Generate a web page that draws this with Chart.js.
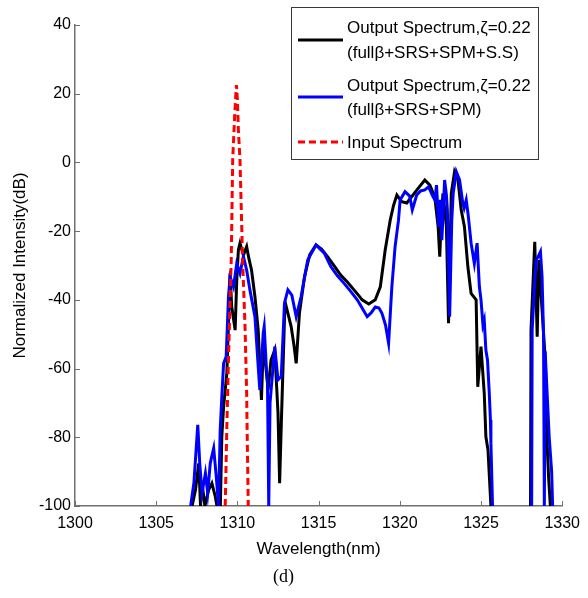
<!DOCTYPE html>
<html>
<head>
<meta charset="utf-8">
<script src="https://cdn.jsdelivr.net/npm/chart.js@4"></script>
<style>
  html, body { margin: 0; padding: 0; background: #fff; }
  #wrap { width: 588px; height: 598px; position: relative; }
</style>
</head>
<body>
<div id="wrap"><canvas id="c" width="588" height="598"></canvas></div>
<script>
// ---- data ----
const xTicks = [1300, 1305, 1310, 1315, 1320, 1325, 1330];
const yTicks = [-100, -80, -60, -40, -20, 0, 20, 40];

const blackWl = [
  1307.21,1307.42,1307.62,1307.73,1307.82,1308.0,1308.23,1308.43,1308.64,1308.74,
  1308.95,1309.04,1309.15,1309.35,1309.55,1309.65,1309.86,1309.96,1310.06,1310.16,
  1310.37,1310.57,1310.7,1310.87,1311.08,1311.18,1311.28,1311.48,1311.59,1311.69,
  1311.89,1312.07,1312.3,1312.5,1312.6,1312.71,1312.91,1313.01,1313.31,1313.48,
  1313.62,1313.82,1314.13,1314.45,1314.84,1315.18,1315.55,1315.96,1316.36,1316.77,
  1317.18,1317.5,1317.68,1318.09,1318.49,1318.8,1319.1,1319.41,1319.62,1319.82,
  1320.12,1320.43,1320.73,1321.14,1321.54,1321.85,1322.15,1322.36,1322.46,1322.56,
  1322.66,1322.87,1323.0,1323.17,1323.37,1323.58,1323.78,1323.98,1324.19,1324.39,
  1324.7,1324.8,1325.0,1325.2,1325.3,1325.43,1325.61,1327.0,1328.05,1328.08,
  1328.31,1328.46,1328.56,1328.72,1328.96,1329.07,1329.16,1329.27
];
const blackDb = [
  -100,-95.3,-87.6,-100,-93.3,-100,-95.3,-93.4,-97.3,-100,
  -100,-79.8,-71.1,-61.3,-32.3,-42,-48.8,-34.2,-25.5,-23.5,
  -27,-24.5,-27.8,-31.3,-39.1,-43.9,-48.8,-69.1,-53.6,-56.5,
  -66.2,-57.5,-54.6,-72.9,-93.4,-75,-43.9,-42,-47.8,-53.1,
  -58.5,-43.9,-33.3,-26.9,-24,-25.2,-27.4,-30.1,-32.8,-34.8,
  -37.1,-38.9,-40,-41.2,-40,-36.2,-25.5,-16.8,-12.4,-9.5,
  -11.4,-11.8,-10,-7.5,-5.1,-6.6,-10,-18.7,-27.4,-15.3,
  -9,-18.7,-46.8,-9,-2.7,-5.1,-13.8,-18.7,-30.3,-38.1,
  -40,-65.3,-53.6,-67.2,-79.8,-83.7,-100,null,-100,-48.8,
  -23.1,-50.7,-28.4,-40,-57.5,-81.7,-91.5,-100
];

const blueWl = [
  1307.12,1307.32,1307.56,1307.68,1307.82,1308.03,1308.17,1308.33,1308.54,1308.7,
  1308.84,1308.94,1309.04,1309.15,1309.31,1309.45,1309.55,1309.76,1309.96,1310.16,
  1310.37,1310.57,1310.77,1311.08,1311.28,1311.38,1311.59,1311.65,1311.79,1311.85,
  1311.93,1312.01,1312.3,1312.5,1312.7,1312.9,1313.11,1313.35,1313.62,1313.92,
  1314.33,1314.84,1315.35,1315.75,1316.16,1316.57,1316.95,1317.38,1317.68,1317.99,
  1318.23,1318.49,1318.72,1318.9,1319.12,1319.31,1319.51,1319.71,1319.92,1320.02,
  1320.32,1320.61,1320.77,1321.04,1321.28,1321.54,1321.77,1322.05,1322.16,1322.26,
  1322.4,1322.5,1322.59,1322.76,1322.87,1322.93,1323.07,1323.2,1323.29,1323.48,
  1323.68,1323.88,1323.96,1324.09,1324.21,1324.39,1324.59,1324.76,1324.9,1325.0,
  1325.12,1325.2,1325.3,1325.4,1325.51,1325.58,1325.61,1325.71,1327.0,1328.12,
  1328.15,1328.25,1328.31,1328.4,1328.52,1328.66,1328.76,1328.85,1328.9,1328.95,
  1329.05,1329.2,1329.35,1329.41
];
const blueDb = [
  -100,-93.4,-76.4,-87.5,-96.3,-90.5,-96.2,-87.5,-83.2,-91.5,
  -100,-77.9,-68.2,-58.5,-56.5,-39.1,-33.3,-36.2,-29.4,-32.3,
  -27.4,-31.3,-37.1,-44.9,-59.4,-66.2,-49.7,-47.8,-60.4,-63.3,
  -100,-70,-53.6,-63.3,-62.3,-40.9,-37.1,-38.6,-44.9,-39.1,
  -28.4,-24,-26.4,-30.3,-33,-35.2,-37.4,-40,-42.4,-44.9,
  -43.8,-42.1,-42.4,-43.9,-47.3,-52.6,-36.2,-24.5,-16.8,-10.9,
  -8.5,-9.8,-13.8,-9.5,-8.3,-8,-7.1,-10,-10.9,-6.6,
  -18.7,-10.9,-22.6,-5.1,-9.5,-13.8,-44.9,-16.8,-8.9,-2.7,
  -5.1,-11.9,-13.3,-10.9,-15.3,-23.5,-29.4,-23.5,-36.2,-40,
  -47.3,-45.9,-54.6,-57.5,-67.2,-75,-81.7,-100,null,-100,
  -48.8,-40,-34.2,-28.4,-27.4,-26,-33.3,-50,-100,-55,
  -65,-80,-90,-100
];

const redWl = [1309.25,1309.35,1309.45,1309.62,1309.71,1309.82,1309.9,1309.94,1310.0,1310.06,1310.16,1310.32,1310.47,1310.57,1310.61,1310.67];
const redDb = [-100,-77,-57.5,-28.4,0.7,12.4,19.6,22.5,18.2,9.4,0.7,-28.4,-47.9,-67.1,-81.7,-100];

const legendLines = [
  ['Output Spectrum,\u03B6=0.22', '(full\u03B2+SRS+SPM+S.S)'],
  ['Output Spectrum,\u03B6=0.22', '(full\u03B2+SRS+SPM)'],
  ['Input Spectrum']
];
const xTitle = 'Wavelength(nm)';
const yTitle = 'Normalized Intensity(dB)';
const caption = '(d)';

// ---- helpers ----
const toPts = (xs, ys) => xs.map((v, i) => ({x: v, y: ys[i]}));
const FONT = "'Liberation Sans', Arial, sans-serif";
const AXIS_COLOR = '#707070';

const inwardTicks = {
  id: 'inwardTicks',
  afterDatasetsDraw(chart) {
    const {ctx, chartArea: a, scales: {x, y}} = chart;
    ctx.save();
    ctx.strokeStyle = AXIS_COLOR;
    ctx.lineWidth = 1;
    x.ticks.forEach(t => {
      const px = Math.round(x.getPixelForValue(t.value)) + 0.5;
      ctx.beginPath(); ctx.moveTo(px, a.bottom); ctx.lineTo(px, a.bottom - 5); ctx.stroke();
    });
    y.ticks.forEach(t => {
      const py = Math.round(y.getPixelForValue(t.value)) + 0.5;
      ctx.beginPath(); ctx.moveTo(a.left, py); ctx.lineTo(a.left + 5, py); ctx.stroke();
    });
    ctx.restore();
  }
};

const boxLegend = {
  id: 'boxLegend',
  afterDraw(chart) {
    const ctx = chart.ctx;
    const bx = 291, by = 7, bw = 247, bh = 152;
    ctx.save();
    ctx.fillStyle = '#fff';
    ctx.fillRect(bx, by, bw, bh);
    ctx.strokeStyle = '#3a3a3a';
    ctx.lineWidth = 1;
    ctx.strokeRect(bx + 0.5, by + 0.5, bw, bh);
    const ds = chart.data.datasets;
    const lineY = [40, 97, 142];
    const textY = [[28, 53], [86, 110], [143]];
    for (let i = 0; i < 3; i++) {
      ctx.beginPath();
      ctx.strokeStyle = ds[i].borderColor;
      ctx.lineWidth = ds[i].borderWidth;
      ctx.setLineDash(ds[i].borderDash || []);
      ctx.moveTo(298, lineY[i]);
      ctx.lineTo(343, lineY[i]);
      ctx.stroke();
      ctx.setLineDash([]);
      ctx.fillStyle = '#000';
      ctx.font = '17px ' + FONT;
      ctx.textBaseline = 'middle';
      ctx.textAlign = 'left';
      legendLines[i].forEach((s, j) => ctx.fillText(s, 347, textY[i][j]));
    }
    ctx.restore();
  }
};

new Chart(document.getElementById('c'), {
  type: 'line',
  data: {
    datasets: [
      { label: legendLines[0].join(' '), data: toPts(blackWl, blackDb), borderColor: '#000000',
        borderWidth: 3, pointRadius: 0, tension: 0, spanGaps: false, order: 3 },
      { label: legendLines[1].join(' '), data: toPts(blueWl, blueDb), borderColor: '#0000ff',
        borderWidth: 3, pointRadius: 0, tension: 0, spanGaps: false, order: 2 },
      { label: legendLines[2][0], data: toPts(redWl, redDb), borderColor: '#ff0000',
        borderWidth: 3, borderDash: [7, 4], pointRadius: 0, tension: 0, order: 1 }
    ]
  },
  options: {
    responsive: false,
    animation: false,
    events: [],
    layout: { padding: { top: 25, right: 21, left: 0, bottom: 0 } },
    plugins: {
      legend: { display: false },
      tooltip: { enabled: false },
      title: { display: false },
      subtitle: {
        display: true, position: 'bottom', text: caption, color: '#000',
        font: { family: "'Liberation Serif', 'Times New Roman', serif", size: 18, weight: 'normal' },
        padding: { top: 0, bottom: 10 }
      }
    },
    scales: {
      x: {
        type: 'linear', min: 1300, max: 1330,
        afterBuildTicks: s => { s.ticks = xTicks.map(v => ({value: v})); },
        afterFit: s => { s.height = 60.4; },
        grid: { display: false, drawTicks: false },
        border: { display: true, color: AXIS_COLOR, width: 1.5 },
        ticks: { color: '#000', font: { family: FONT, size: 16 }, padding: 8, maxRotation: 0, autoSkip: false,
                 callback: v => String(v) },
        title: { display: true, text: xTitle, color: '#000', font: { family: FONT, size: 17 }, padding: { top: 0, bottom: 7 } }
      },
      y: {
        type: 'linear', min: -100, max: 40,
        afterBuildTicks: s => { s.ticks = yTicks.map(v => ({value: v})); },
        afterFit: s => { s.width = 75; },
        grid: { display: false, drawTicks: false },
        border: { display: true, color: AXIS_COLOR, width: 1.5 },
        ticks: { color: '#000', font: { family: FONT, size: 16 }, padding: 4, autoSkip: false,
                 callback: v => String(v) },
        title: { display: true, text: yTitle, color: '#000', font: { family: FONT, size: 17 }, padding: { top: 10, bottom: 0 } }
      }
    }
  },
  plugins: [inwardTicks, boxLegend]
});
</script>
</body>
</html>
